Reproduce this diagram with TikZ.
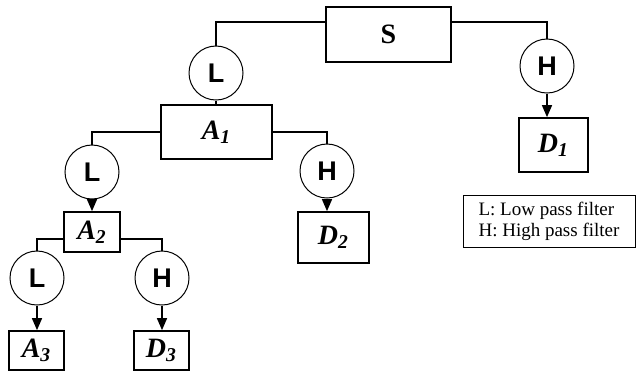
\documentclass[tikz,border=0pt]{standalone}
\usepackage{fontspec}
\setmainfont{Liberation Serif}
\newfontfamily\filterfont{Liberation Sans}
\usetikzlibrary{arrows.meta,calc}

\begin{document}
\begin{tikzpicture}[x=0.5pt,y=-0.5pt,
    box/.style={draw,line width=0.85pt,inner sep=0pt,font=\fontsize{14}{16}\selectfont\bfseries\itshape},
    filter/.style={draw,circle,line width=0.5pt,minimum size=27pt,inner sep=0pt,font=\filterfont\fontsize{13.5}{15}\selectfont\bfseries},
    link/.style={line width=0.7pt},
    feed/.style={line width=0.7pt,-{Triangle[length=6pt,width=5pt]}}]
\useasboundingbox (0,0) rectangle (636,371);
    % signal and outputs
    \node[box,minimum width=62.5pt,minimum height=27.5pt,font=\fontsize{14}{16}\selectfont\bfseries] (s) at (388.5,34.5) {S};
    \node[box,minimum width=55.5pt,minimum height=27pt] (a1) at (216.5,132) {A\textsubscript{1}};
    \node[box,minimum width=34.5pt,minimum height=27pt] (d1) at (553.5,145) {D\textsubscript{1}};
    \node[box,minimum width=28pt,minimum height=20pt] (a2) at (92,232) {A\textsubscript{2}};
    \node[box,minimum width=35.5pt,minimum height=25.5pt] (d2) at (333.5,237.5) {D\textsubscript{2}};
    \node[box,minimum width=27.5pt,minimum height=19.5pt] (a3) at (36.5,350.5) {A\textsubscript{3}};
    \node[box,minimum width=27.5pt,minimum height=19.5pt] (d3) at (161.5,350.5) {D\textsubscript{3}};
    % filters
    \node[filter] (l1) at (216,73) {L};
    \node[filter] (h1) at (547,66) {H};
    \node[filter] (l2) at (92,172) {L};
    \node[filter] (h2) at (327,171) {H};
    \node[filter] (l3) at (37,278) {L};
    \node[filter] (h3) at (162,278) {H};
    % level 1
    \draw[link] ($(s.north west)+(0,16)$) -| (l1.north);
    \draw[link] ($(s.north east)+(0,16)$) -| (h1.north);
    \draw[link] (l1.south) -- (l1.south |- a1.north);
    \draw[feed] (h1.south) -- (h1.south |- d1.north);
    % level 2
    \draw[link] (a1.west) -| (l2.north);
    \draw[link] (a1.east) -| (h2.north);
    \draw[feed] (l2.south) -- (l2.south |- a2.north);
    \draw[feed] (h2.south) -- (h2.south |- d2.north);
    % level 3
    \draw[link] ($(a2.west)+(0,7)$) -| (l3.north);
    \draw[link] ($(a2.east)+(0,7)$) -| (h3.north);
    \draw[feed] (l3.south) -- (l3.south |- a3.north);
    \draw[feed] (h3.south) -- (h3.south |- d3.north);
    % legend
    \node[draw,line width=0.5pt,minimum width=86pt,minimum height=26pt,inner xsep=6pt,align=left,
          font=\fontsize{9.5}{10.5}\selectfont] (key) at (549,221) {L: Low pass filter\\H: High pass filter};
\end{tikzpicture}
\end{document}
